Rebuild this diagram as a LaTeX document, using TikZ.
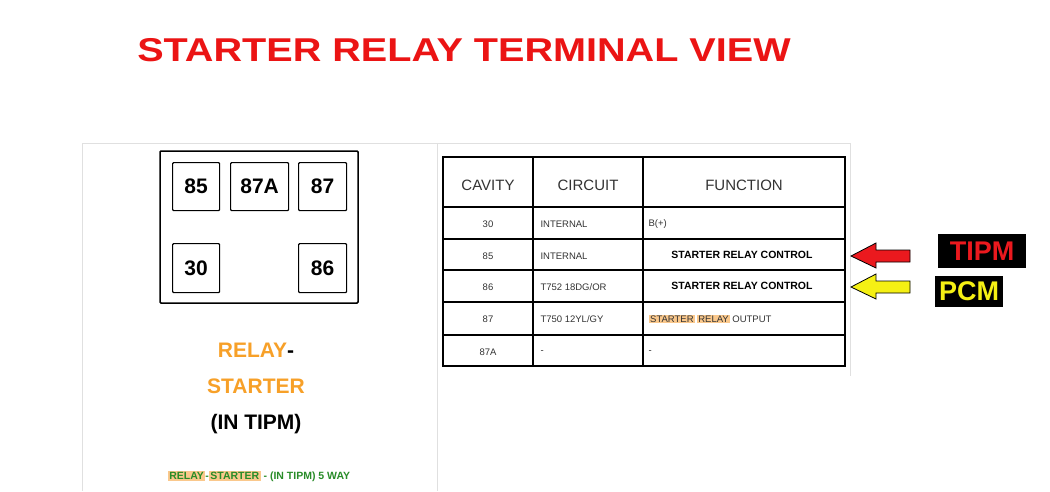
\documentclass[tikz,border=0pt]{standalone}
\usepackage{fontspec}
\setmainfont{Liberation Sans}
\definecolor{titlered}{RGB}{235,20,20}
\definecolor{relorange}{RGB}{247,160,40}
\definecolor{hl}{RGB}{250,200,140}
\definecolor{capgreen}{RGB}{40,140,40}
\definecolor{tipmred}{RGB}{235,25,30}
\definecolor{pcmyel}{RGB}{245,240,20}
\begin{document}
\begin{tikzpicture}[x=1pt,y=-1pt,
  pin/.style={draw,line width=1.2pt,rounded corners=1pt,anchor=north west,inner sep=0pt},
  pint/.style={font=\fontsize{21}{22}\selectfont\bfseries},
  cell/.style={font=\fontsize{9.5}{10}\selectfont\color{black!80}},
  hcell/.style={font=\fontsize{15}{16}\selectfont\color{black!80}},
  bcell/.style={font=\fontsize{10.5}{11}\selectfont\bfseries},
  arr/.style={draw=black,line width=0.8pt}]
\useasboundingbox (0,0) rectangle (1050,491);
\fill[white] (0,0) rectangle (1050,491);
\node (title) at (464,50) {\scalebox{1.2}[1]{\fontsize{33}{36}\selectfont\bfseries\color{titlered}STARTER RELAY TERMINAL VIEW}};
% panels
\draw[black!12,line width=1pt] (82,491) -- (82,143) -- (437,143) -- (437,491);
\draw[black!12,line width=1pt] (437,143) -- (850,143) -- (850,376);
% relay
\draw[line width=1.5pt,rounded corners=1pt] (160,151) rectangle (358,303);
\node[pin,minimum width=47pt,minimum height=48pt] (p85) at (172,162) {};
\node[pint] at (p85.center) {85};
\node[pin,minimum width=58pt,minimum height=48pt] (p87a) at (230,162) {};
\node[pint] at (p87a.center) {87A};
\node[pin,minimum width=48pt,minimum height=48pt] (p87) at (298,162) {};
\node[pint] at (p87.center) {87};
\node[pin,minimum width=47pt,minimum height=49pt] (p30) at (172,243) {};
\node[pint] at (p30.center) {30};
\node[pin,minimum width=48pt,minimum height=49pt] (p86) at (298,243) {};
\node[pint] at (p86.center) {86};
\node (l1) at (256,350) {\fontsize{21}{22}\selectfont\bfseries\color{relorange}RELAY\color{black}-};
\node (l2) at (256,386) {\fontsize{21}{22}\selectfont\bfseries\color{relorange}STARTER};
\node (l3) at (256,424) {\fontsize{21}{22}\selectfont\bfseries (IN TIPM)};
\node (cap) at (259,476) {\fontsize{10.5}{11}\selectfont\bfseries\color{capgreen}%
\fboxsep=1.5pt\colorbox{hl}{RELAY}-\colorbox{hl}{STARTER} - (IN TIPM) 5 WAY};
% table
\draw[line width=1.2pt] (443,157) rectangle (845,366);
\foreach \yy in {207,239,270,302,335}{\draw[line width=1.2pt] (443,\yy) -- (845,\yy);}
\foreach \xx in {533,643}{\draw[line width=1.2pt] (\xx,157) -- (\xx,366);}
\node[hcell] (h1) at (488,185) {CAVITY};
\node[hcell] (h2) at (588,185) {CIRCUIT};
\node[hcell] (h3) at (744,185) {FUNCTION};
\node[cell] (c1) at (488,224) {30};
\node[cell] (c2) at (488,256) {85};
\node[cell] (c3) at (488,287) {86};
\node[cell] (c4) at (488,319) {87};
\node[cell] (c5) at (488,352) {87A};
\node[cell,anchor=west] (d1) at (537,224) {INTERNAL};
\node[cell,anchor=west] (d2) at (537,256) {INTERNAL};
\node[cell,anchor=west] (d3) at (537,287) {T752 18DG/OR};
\node[cell,anchor=west] (d4) at (537,319) {T750 12YL/GY};
\node[cell,anchor=west] (d5) at (537,352) {-};
\node[cell,anchor=west] (f1) at (645,224) {B(+)};
\node[bcell] (f2) at (742,255) {STARTER RELAY CONTROL};
\node[bcell] (f3) at (742,286) {STARTER RELAY CONTROL};
\node[cell,anchor=west,inner sep=2pt] (f4) at (647,319) {\fboxsep=1pt\colorbox{hl}{STARTER} \colorbox{hl}{RELAY} OUTPUT};
\node[cell,anchor=west] (f5) at (645,352) {-};
% labels
\node[fill=black,text=tipmred,font=\fontsize{27}{28}\selectfont\bfseries,minimum width=88pt,minimum height=34pt,inner sep=0pt] (tipm) at (982,251) {TIPM};
\node[fill=black,text=pcmyel,font=\fontsize{27}{28}\selectfont\bfseries,minimum width=68pt,minimum height=31pt,inner sep=0pt] (pcm) at (969,291) {PCM};
% arrows
\draw[arr,fill=tipmred] (910,250) -- (876,250) -- (876,243) -- (851,256) -- (876,268) -- (876,262) -- (910,262) -- cycle;
\draw[arr,fill=pcmyel] (910,281) -- (876,281) -- (876,274) -- (851,287) -- (876,299) -- (876,293) -- (910,293) -- cycle;
\end{tikzpicture}
\end{document}
